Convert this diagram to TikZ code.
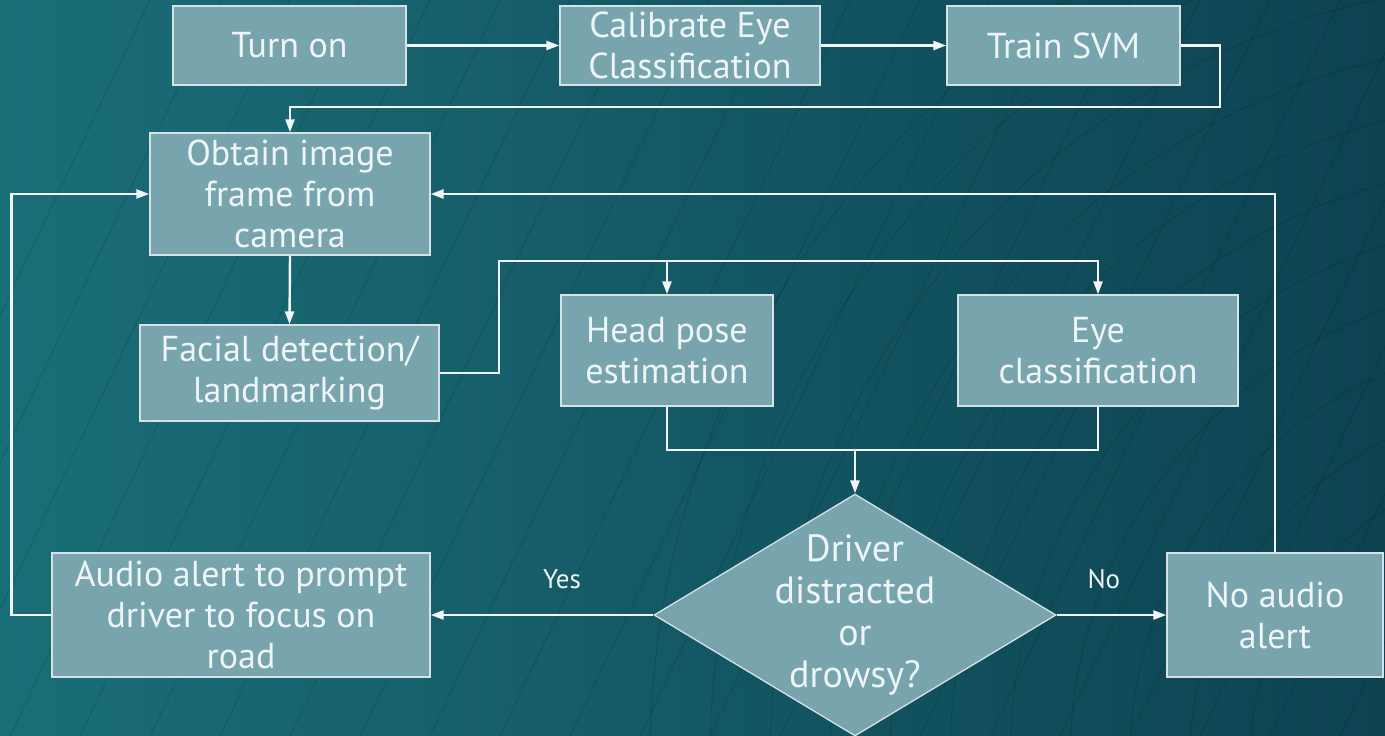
\documentclass[tikz,border=0pt]{standalone}
\usepackage{fontspec}
\setmainfont{PT Sans}
\usetikzlibrary{shapes.geometric,arrows.meta,calc}
\definecolor{bgL}{HTML}{1A6E78}
\definecolor{bgR}{HTML}{0D4251}
\definecolor{boxfill}{HTML}{78A4AE}
\definecolor{boxline}{HTML}{D6E3E5}
\definecolor{txt}{HTML}{EEF5F6}
\definecolor{wire}{HTML}{F2F5F5}
\begin{document}
\begin{tikzpicture}[x=1pt,y=-1pt,
  box/.style={draw=boxline,line width=1.3pt,fill=boxfill,inner sep=0pt,align=center,
    text=txt,font=\fontsize{36}{41}\selectfont},
  lbl/.style={text=txt,font=\fontsize{27}{30}\selectfont},
  wire/.style={draw=wire,line width=2.4pt},
  arr/.style={wire,-{Triangle[length=13pt,width=9pt]}}]
\shade[left color=bgL,right color=bgR] (0,0) rectangle (1385,736);
\useasboundingbox (0,0) rectangle (1385,736);
% faint background strokes
\begin{scope}[draw=black,opacity=0.12,line width=1pt]
\foreach \i in {0,...,22}{
  \draw (-200+\i*70,736) -- (150+\i*70,0);
}
\foreach \r in {300,360,...,900}{
  \draw (1550,760) circle[radius=\r];
}
\end{scope}
% nodes
\node[box,minimum width=233,minimum height=79] (turn) at (289.5,45.5) {Turn on};
\node[box,minimum width=260,minimum height=79] (cal) at (690,45.5) {Calibrate Eye\\Classification};
\node[box,minimum width=233,minimum height=79] (svm) at (1063.5,45.5) {Train SVM};
\node[box,minimum width=280,minimum height=122] (obt) at (290,194) {Obtain image\\frame from\\camera};
\node[box,minimum width=299,minimum height=96] (fac) at (289.5,373) {Facial detection/\\landmarking};
\node[box,minimum width=212,minimum height=111] (head) at (667,350.5) {Head pose\\estimation};
\node[box,minimum width=280,minimum height=111] (eye) at (1098,350.5) {Eye\\classification};
\node[box,minimum width=378,minimum height=124] (aud) at (241,615) {Audio alert to prompt\\driver to focus on\\road};
\node[box,minimum width=216,minimum height=124] (noa) at (1275,615) {No audio\\alert};
\node[box,diamond,minimum width=402,minimum height=242] (dec) at (855,615) {};
\node[text=txt,align=center,font=\fontsize{38}{42}\selectfont] (dect) at (dec.center) {Driver\\distracted\\or\\drowsy?};
% connectors
\coordinate (j1) at (499,261);
\coordinate (j2) at (855,450);
\draw[arr] (turn.east) -- (cal.west);
\draw[arr] (cal.east) -- (svm.west);
\draw[arr] (svm.east) -| (1220,107) -| (obt.north);
\draw[arr] (obt.south) -- (fac.north);
\draw[arr] (fac.east) -| (j1) -| (head.north);
\draw[arr] (j1) -| (eye.north);
\draw[wire] (head.south) |- (j2) -| (eye.south);
\draw[arr] (j2) -- (dec.north);
\draw[arr] (dec.west) -- node[lbl,above=22pt,pos=0.41] {Yes} (aud.east);
\draw[arr] (dec.east) -- node[lbl,above=22pt,pos=0.43] {No} (noa.west);
\draw[arr] (noa.north) |- (obt.east);
\draw[arr] (aud.west) -- ++(-40,0) |- (obt.west);
\end{tikzpicture}
\end{document}
